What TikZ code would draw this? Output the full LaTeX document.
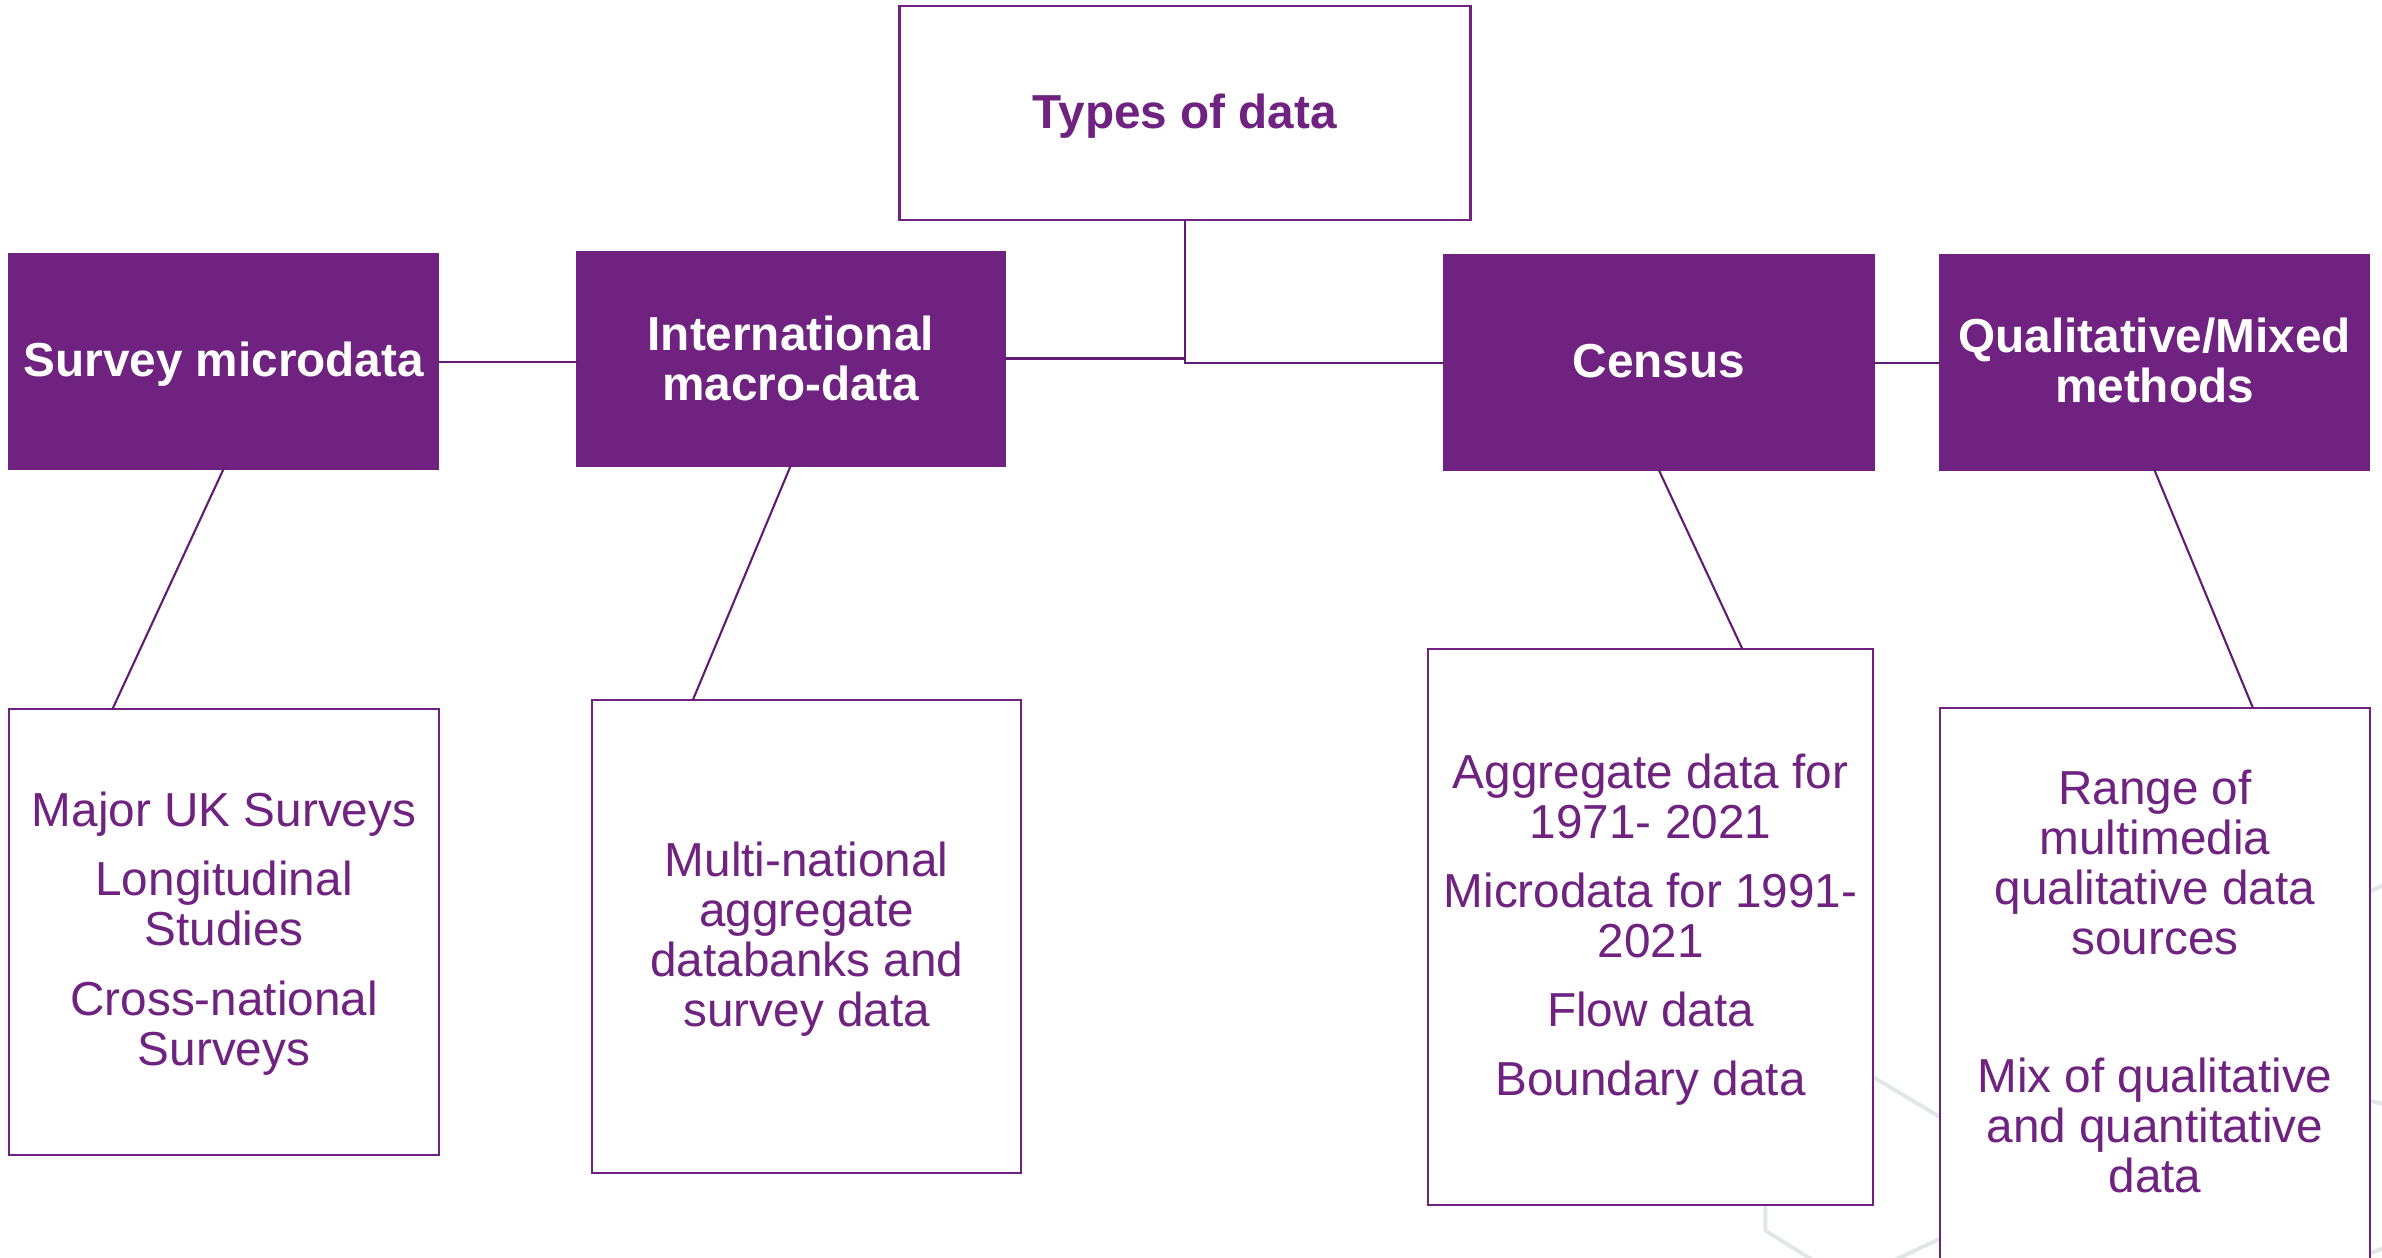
\documentclass[tikz,border=0pt]{standalone}
\usepackage{fontspec}
\setmainfont{Liberation Sans}
\usetikzlibrary{calc}
\definecolor{ukpurple}{HTML}{6F2280}
\definecolor{linkpurple}{HTML}{5F1C70}
\definecolor{hexgrey}{HTML}{DFE7E7}
\tikzset{
  wh/.style 2 args={minimum width=#1*0.7596pt, minimum height=#2*0.7596pt},
  basebox/.style={rectangle, inner sep=0pt, outer sep=0pt, draw=ukpurple, line width=1pt},
  headbox/.style={basebox, fill=ukpurple},
  rootbox/.style={basebox, fill=white, line width=1.2pt},
  detailbox/.style={basebox, fill=white},
  basetext/.style={inner sep=0pt, outer sep=0pt, align=center},
  headtext/.style={basetext, text=white, font=\fontsize{23.85}{25}\selectfont\bfseries},
  roottext/.style={basetext, text=ukpurple, font=\fontsize{23.85}{25}\selectfont\bfseries},
  detailtext/.style={basetext, text=ukpurple, font=\fontsize{23.85}{25}\selectfont},
  link/.style={draw=linkpurple, line width=1.05pt},
  hexline/.style={draw=hexgrey, line width=2pt, line join=round}
}
\begin{document}
\begin{tikzpicture}[x=0.7596pt, y=-0.7596pt]
\useasboundingbox (0,0) rectangle (1568,828);
% faint background hexagons
\draw[hexline] (1233,709) -- (1280,737);
\draw[hexline] (1162,790) -- (1162,810) -- (1194,830);
\draw[hexline] (1280,814) -- (1246,830);
\draw[hexline] (1558,588) -- (1570,582);
\draw[hexline] (1558,724) -- (1570,727);
\draw[hexline] (1558,826) -- (1570,821);
% top level boxes
\node[rootbox, wh={376}{141}] (root) at (780,74.5) {};
\node[headbox, wh={282.3}{141}] (survey) at (147.25,238) {};
\node[headbox, wh={282}{140.5}] (intl) at (520.5,236.25) {};
\node[headbox, wh={283}{141.5}] (census) at (1092,238.75) {};
\node[headbox, wh={282.5}{141.5}] (qual) at (1418.25,238.75) {};
% detail boxes
\node[detailbox, wh={283}{293}] (sd) at (147.5,613.5) {};
\node[detailbox, wh={282}{311}] (id) at (531,616.5) {};
\node[detailbox, wh={293}{366}] (cd) at (1086.5,610) {};
\node[detailbox, wh={283}{366}] (qd) at (1418.5,649) {};
% texts
\node[roottext] (roott) at (780,76.5) {Types of data};
\node[headtext] (surveyt) at (147.25,240) {Survey microdata};
\node[headtext] (intlt) at (520.5,236) {International\\macro-data};
\node[headtext] (censust) at (1092,237.75) {Census};
\node[headtext] (qualt) at (1418.25,237) {Qualitative/Mixed\\methods};
\node[detailtext] (sdt) at (147.5,614.5) {Major UK Surveys\\[9.7pt]Longitudinal\\Studies\\[9.7pt]Cross-national\\Surveys};
\node[detailtext] (idt) at (531,618.5) {Multi-national\\aggregate\\databanks and\\survey data};
\node[detailtext] (cdt) at (1086.5,612) {Aggregate data for\\1971- 2021\\[9.5pt]Microdata for 1991-\\2021\\[9.5pt]Flow data\\[9.5pt]Boundary data};
\node[detailtext] (qdt) at (1418.5,646) {Range of\\multimedia\\qualitative data\\sources\\[44pt]Mix of qualitative\\and quantitative\\data};
% connectors
\draw[link] (root.south) |- (census.west);
\draw[link, line width=1.5pt] (intl.east) -- (intl.east -| root.south);
\draw[link] (survey.east) -- (survey.east -| intl.west);
\draw[link] (census.east) -- (census.east -| qual.west);
\draw[link] (survey.south) -- ($(sd.north west)!0.24!(sd.north east)$);
\draw[link] (intl.south) -- ($(id.north west)!0.234!(id.north east)$);
\draw[link] (census.south) -- ($(cd.north west)!0.706!(cd.north east)$);
\draw[link] (qual.south) -- ($(qd.north west)!0.728!(qd.north east)$);
\end{tikzpicture}
\end{document}
